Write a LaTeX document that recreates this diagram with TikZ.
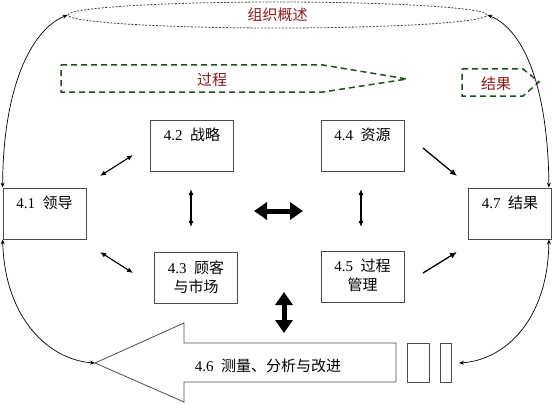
\documentclass[tikz,border=0pt]{standalone}
\usepackage{fontspec}
\setmainfont{Liberation Serif}
\newfontfamily\cjk{Noto Sans CJK SC}
\usetikzlibrary{arrows.meta,shapes.geometric}
\definecolor{titlered}{HTML}{8B1A1A}
\definecolor{dashgreen}{HTML}{1F4F1F}

\begin{document}
\begin{tikzpicture}[x=1pt,y=-1pt,
  txt/.style={font=\fontsize{15}{19}\selectfont},
  box/.style={draw=black!70, line width=0.8pt, minimum width=83pt, minimum height=51pt, inner sep=0pt},
  boxlbl/.style={txt, anchor=north, align=center, inner sep=0pt, yshift=-8.5pt},
  twoway/.style={line width=1.1pt, {Latex[length=6pt,width=5pt]}-{Latex[length=6pt,width=5pt]}},
  oneway/.style={line width=1.3pt, -{Latex[length=7pt,width=6pt]}},
  fat/.style={line width=5pt, {Triangle[length=13pt,width=17pt]}-{Triangle[length=13pt,width=17pt]}},
  loopline/.style={line width=0.7pt, {Stealth[length=5pt,width=4pt]}-{Stealth[length=5pt,width=4pt]}},
  procline/.style={dashgreen, line width=1.5pt, dash pattern=on 6pt off 4pt}]
\useasboundingbox (0,0) rectangle (554,404);

% top: overview ellipse, process and result banners
\node [ellipse, draw=black!75, dash pattern=on 2pt off 1.5pt, line width=0.8pt, minimum width=419pt, minimum height=26pt,
  inner sep=0pt, txt, text=titlered] (overview) at (277.5,15) {\cjk 组织概述};
\draw [procline] (61,65) -- (323,65) -- (407,79) -- (323,92) -- (61,92) -- cycle;
\node [txt, text=titlered] (proclbl) at (212,80) {\cjk 过程};
\draw [procline] (462,69) -- (523,69) -- (539,82) -- (523,96) -- (462,96) -- cycle;
\node [txt, text=titlered] (reslbl) at (496,84) {\cjk 结果};

% the seven boxes
\node [box] (lead) at (44.5,213.5) {};
\node [boxlbl] at (lead.north) {4.1\hspace{0.5em}{\cjk 领导}};
\node [box] (strat) at (192,145.5) {};
\node [boxlbl] at (strat.north) {4.2\hspace{0.5em}{\cjk 战略}};
\node [box] (cust) at (196,277.5) {};
\node [boxlbl] at (cust.north) {4.3\hspace{0.5em}{\cjk 顾客}\\{\cjk 与市场}};
\node [box] (rsrc) at (362.5,145.5) {};
\node [boxlbl] at (rsrc.north) {4.4\hspace{0.5em}{\cjk 资源}};
\node [box] (pman) at (362.5,276.5) {};
\node [boxlbl] at (pman.north) {4.5\hspace{0.5em}{\cjk 过程}\\{\cjk 管理}};
\node [box] (result) at (510,213.5) {};
\node [boxlbl] at (result.north) {4.7\hspace{0.5em}{\cjk 结果}};

% 4.6 big arrow and the two gaps
\coordinate (mtip) at (95,363);
\draw [draw=black!70, line width=0.8pt] (396,343) -- (184,343) -- (184,323) -- (mtip)
  -- (184,402) -- (184,382) -- (396,382) -- cycle;
\node [txt] (measure) at (268,366) {4.6\hspace{0.5em}{\cjk 测量、分析与改进}};
\node [draw=black!70, line width=0.8pt, minimum width=22pt, minimum height=39pt] (gapA) at (418,362.5) {};
\node [draw=black!70, line width=0.8pt, minimum width=11pt, minimum height=39pt] (gapB) at (445.5,362.5) {};
\coordinate (fbk) at (459,363);

% arrow ends between boxes
\coordinate (ls1) at (100,176);
\coordinate (ls2) at (133,155);
\coordinate (lc1) at (100,252);
\coordinate (lc2) at (133,273);
\coordinate (sc1) at (191,189);
\coordinate (sc2) at (191,227);
\coordinate (rp1) at (361,189);
\coordinate (rp2) at (361,227);
\coordinate (ro1) at (423,148);
\coordinate (ro2) at (457,176);
\coordinate (po1) at (423,273);
\coordinate (po2) at (457,252);
\coordinate (hz1) at (254,211);
\coordinate (hz2) at (303,211);
\coordinate (vt1) at (284,292);
\coordinate (vt2) at (284,333);

\draw [twoway] (ls1) -- (ls2);
\draw [twoway] (lc1) -- (lc2);
\draw [twoway] (sc1) -- (sc2);
\draw [twoway] (rp1) -- (rp2);
\draw [oneway] (ro1) -- (ro2);
\draw [oneway] (po1) -- (po2);
\draw [fat] (hz1) -- (hz2);
\draw [fat] (vt1) -- (vt2);

% outer loops
\draw [loopline] (lead.north west) .. controls (3,90) and (30,30) .. (overview.west);
\draw [loopline] ([xshift=-3pt]result.north east) .. controls (548,90) and (525,30) .. (overview.east);
\draw [loopline] (lead.south west) .. controls (5,320) and (50,360) .. (mtip);
\draw [loopline] ([xshift=-3pt]result.south east) .. controls (548,320) and (505,360) .. (fbk);

\end{tikzpicture}
\end{document}
